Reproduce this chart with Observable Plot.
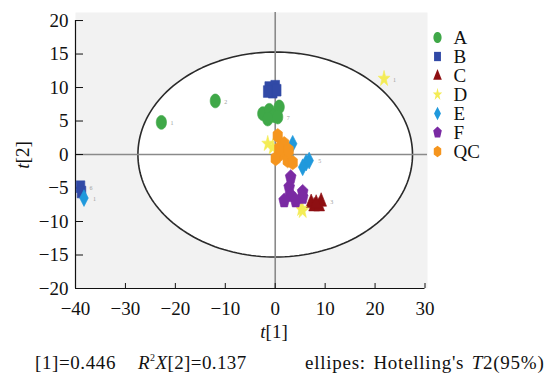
<!DOCTYPE html>
<html><head><meta charset="utf-8">
<script src="https://cdn.jsdelivr.net/npm/d3@7"></script>
<script src="https://cdn.jsdelivr.net/npm/@observablehq/plot@0.6"></script>
<style>
html,body{margin:0;padding:0;background:#fff;}
#wrap{position:relative;width:551px;height:375px;overflow:hidden;font-family:'Liberation Serif',serif;color:#111;}
#chart{position:absolute;left:0;top:0;}
#legend{position:absolute;left:426px;top:8px;}
.cap{position:absolute;top:353px;font-size:19px;white-space:nowrap;line-height:19px;height:19px;font-family:'Liberation Serif',serif;}
.sup{font-size:10px;position:relative;top:-8px;}
</style></head><body>
<div id="wrap"><div id="chart"></div><div id="legend"></div>
<div class="cap" style="left:35px;letter-spacing:0.6px">[1]=0.446</div>
<div class="cap" style="left:138px;letter-spacing:0.4px"><i>R</i><span class="sup">2</span><i>X</i>[2]=0.137</div>
<div class="cap" style="left:305px;letter-spacing:0.75px;word-spacing:2px">ellipes: Hotelling's <i>T</i>2(95%)</div>
</div>
<script>
// ---- data ----
const groups = ["A", "B", "C", "D", "E", "F", "QC"];
const groupColors = ["#3fa848", "#3149a6", "#8e0f12", "#f4ec55", "#2099dc", "#7a2aa3", "#f5951e"];
const xTicks = [-40, -30, -20, -10, 0, 10, 20, 30];
const yTicks = [-20, -15, -10, -5, 0, 5, 10, 15, 20];
const ellipseSemiAxes = [27.5, 15.3]; // Hotelling's T2 95% limits on t[1], t[2]

const sampleGroup = [
  "A","A","A","A","A","A","A","A",
  "B","B","B","B","B","B","B",
  "C","C","C","C","C",
  "D","D","D","D","D",
  "E","E","E","E","E","E",
  "F","F","F","F","F","F","F",
  "QC","QC","QC","QC","QC","QC","QC","QC"
];
const t1 = [
  -22.8, -12.0, -2.5, -1.2, -0.2, 0.8, 0.5, -1.5,
  -1.2, 0.0, -0.5, 0.3, -1.5, -39.0, -38.8,
  7.2, 7.8, 9.2, 8.8, 8.2,
  21.8, 5.2, 5.5, -1.5, -0.5,
  -38.3, 3.5, 6.2, 5.5, 6.8, 2.8,
  3.1, 2.8, 3.1, 1.8, 5.5, 5.5, 4.1,
  0.5, 1.8, 1.1, 0.1, 2.5, 3.5, 0.8, 2.7
];
const t2 = [
  4.8, 8.0, 6.1, 6.6, 5.8, 7.1, 5.6, 5.3,
  10.0, 10.2, 9.3, 9.6, 9.4, -4.8, -5.6,
  -7.1, -7.6, -6.9, -7.6, -7.2,
  11.3, -8.1, -8.4, 1.6, 1.1,
  -6.5, 1.6, -1.2, -1.9, -0.9, -0.15,
  -3.4, -4.9, -6.1, -6.9, -5.6, -6.4, -6.9,
  2.8, 1.6, 0.1, -0.6, -0.9, -1.2, 0.9, 0.6
];
// sample numbers shown beside a few markers (others are illegible in the figure)
const labelledIndex = [0, 1, 6, 8, 13, 20, 25, 29, 17, 33];

// ---- table built from the arrays ----
const counters = {};
const samples = sampleGroup.map((g, i) => {
  counters[g] = (counters[g] || 0) + 1;
  return {group: g, t1: t1[i], t2: t2[i], id: String(counters[g])};
});
const labelled = labelledIndex.map(i => samples[i]);
const ellipse = d3.range(0, 361, 2).map(deg => {
  const a = deg * Math.PI / 180;
  return {t1: ellipseSemiAxes[0] * Math.cos(a), t2: ellipseSemiAxes[1] * Math.sin(a)};
});

// ---- vertically stretched symbols (the figure's markers are taller than wide) ----
const S = 1.35;
function poly(pts) {
  return {draw(ctx, size) {
    const r = Math.sqrt(size / Math.PI);
    pts.forEach(([x, y], i) => i ? ctx.lineTo(x * r, y * r * S) : ctx.moveTo(x * r, y * r * S));
    ctx.closePath();
  }};
}
const ring = (n, rot, rr = 1) => d3.range(n).map(i => {
  const a = rot + i * 2 * Math.PI / n;
  return [rr * Math.cos(a), rr * Math.sin(a)];
});
const starPts = d3.range(10).map(i => {
  const a = -Math.PI / 2 + i * Math.PI / 5, rr = i % 2 ? 0.45 : 1.15;
  return [rr * Math.cos(a), rr * Math.sin(a)];
});
const symbols = [
  poly(ring(40, 0, 0.95)),
  poly([[-0.8,-0.8],[0.8,-0.8],[0.8,0.8],[-0.8,0.8]]),
  poly([[0,-1.1],[1.0,0.75],[-1.0,0.75]]),
  poly(starPts),
  poly([[0,-1.15],[0.8,0],[0,1.15],[-0.8,0]]),
  poly(ring(5, -Math.PI / 2, 1.05)),
  poly(ring(6, -Math.PI / 2, 1.0))
];

const FONT = "'Liberation Serif', serif";
const chart = Plot.plot({
  width: 551, height: 345,
  marginLeft: 75, marginRight: 124, marginTop: 12, marginBottom: 57,
  style: {fontFamily: FONT, fontSize: "19px", background: "transparent", color: "#111"},
  x: {domain: [-40, 30.5]},
  y: {domain: [-20, 21.2]},
  color: {domain: groups, range: groupColors},
  symbol: {domain: groups, range: symbols},
  marks: [
    Plot.frame({fill: "#f2f2f2", stroke: "none"}),
    Plot.line(ellipse, {x: "t1", y: "t2", fill: "white", stroke: "#2a2a2a", strokeWidth: 1.6}),
    Plot.ruleX([0], {stroke: "#8a8a8a", strokeWidth: 1.6}),
    Plot.ruleY([0], {stroke: "#8a8a8a", strokeWidth: 1.6}),
    Plot.ruleX([xTicks[0]], {y1: yTicks[0], y2: yTicks[yTicks.length - 1], stroke: "#111", strokeWidth: 1.2}),
    Plot.ruleY([yTicks[0]], {x1: xTicks[0], x2: xTicks[xTicks.length - 1], stroke: "#111", strokeWidth: 1.2}),
    Plot.axisX({ticks: xTicks, tickSize: -5, tickPadding: 18, label: null, stroke: "#111", fontFamily: FONT, fontSize: 19}),
    Plot.axisY({ticks: yTicks, tickSize: -8, tickPadding: 15, label: null, stroke: "#111", fontFamily: FONT, fontSize: 19}),
    Plot.text(labelled, {x: "t1", y: "t2", text: "id", dx: 9, dy: 1, fontSize: 6, fill: "#a0a0a0", textAnchor: "start"}),
    Plot.dot(samples, {x: "t1", y: "t2", symbol: "group", fill: "group", r: 5.4, stroke: "group", strokeWidth: 0.6})
  ]
});
document.getElementById("chart").append(chart);

// axis titles with italic t
const svg = d3.select(chart);
const xt = svg.append("text").attr("x", 274).attr("y", 338).attr("text-anchor", "middle")
  .attr("font-size", 19).attr("fill", "#111").attr("font-family", FONT);
xt.append("tspan").attr("font-style", "italic").text("t");
xt.append("tspan").text("[1]");
const yt = svg.append("text").attr("transform", "translate(29,155) rotate(-90)").attr("text-anchor", "middle")
  .attr("font-size", 19).attr("fill", "#111").attr("font-family", FONT);
yt.append("tspan").attr("font-style", "italic").text("t");
yt.append("tspan").text("[2]");

// legend
const legend = Plot.plot({
  width: 110, height: 175, margin: 0,
  style: {fontFamily: FONT, fontSize: "19px", background: "transparent", color: "#111"},
  y: {type: "point", domain: groups, range: [17, 154], axis: null},
  color: {domain: groups, range: groupColors},
  symbol: {domain: groups, range: symbols},
  marks: [
    Plot.dot(groups, {y: d => d, symbol: d => d, fill: d => d, r: 4.3, frameAnchor: "left", dx: 11}),
    Plot.text(groups, {y: d => d, text: d => d, frameAnchor: "left", dx: 27, textAnchor: "start", fill: "#111", fontFamily: FONT, fontSize: 19})
  ]
});
document.getElementById("legend").append(legend);
</script>
</body></html>
